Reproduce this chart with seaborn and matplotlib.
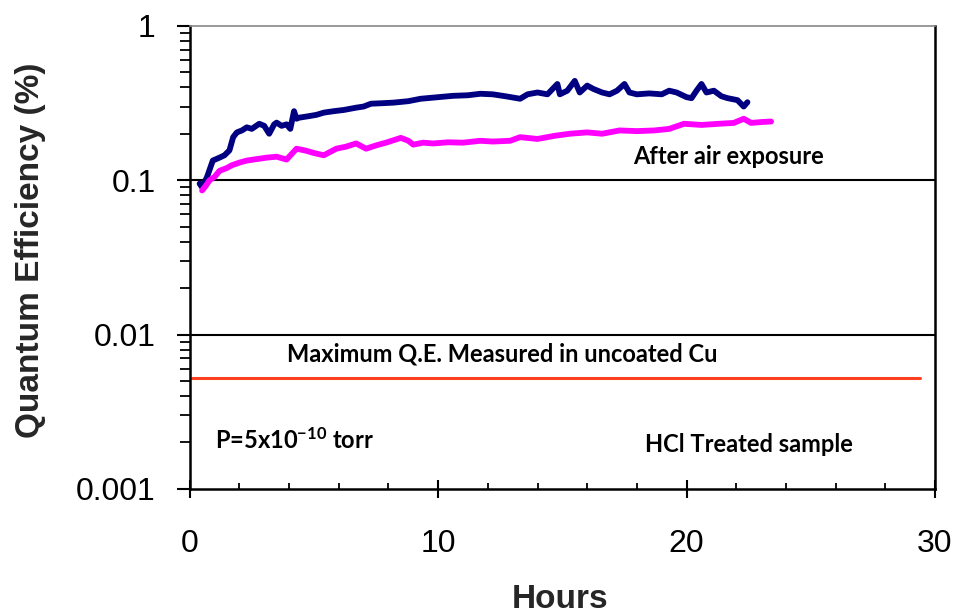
import numpy as np
import pandas as pd
import seaborn as sns
import matplotlib.pyplot as plt
from matplotlib.ticker import LogLocator, FixedLocator, NullFormatter

# navy series: HCl treated sample
hcl_hours = [0.4, 0.5, 0.7, 0.93, 1.2, 1.4, 1.6, 1.75, 1.9, 2.1, 2.3, 2.5, 2.8, 3.0, 3.2,
             3.4, 3.5, 3.7, 3.9, 4.05, 4.2, 4.3, 4.4, 4.8, 5.1, 5.4, 5.8, 6.2, 6.7, 7.0,
             7.3, 7.7, 8.2, 8.8, 9.3, 10.0, 10.6, 11.2, 11.7, 12.2, 12.7, 13.3, 13.6, 14.0,
             14.4, 14.8, 14.9, 15.2, 15.5, 15.7, 16.0, 16.25, 16.6, 16.9, 17.2, 17.5, 17.7,
             18.0, 18.5, 19.0, 19.3, 19.6, 20.0, 20.2, 20.4, 20.6, 20.8, 21.1, 21.4, 21.65,
             22.05, 22.3, 22.45]
hcl_qe = [0.095, 0.09, 0.105, 0.134, 0.14, 0.145, 0.156, 0.19, 0.204, 0.21, 0.22, 0.215,
          0.232, 0.225, 0.2, 0.23, 0.236, 0.225, 0.23, 0.215, 0.28, 0.25, 0.254, 0.26, 0.265,
          0.274, 0.28, 0.285, 0.295, 0.3, 0.313, 0.315, 0.318, 0.325, 0.337, 0.345, 0.352,
          0.355, 0.363, 0.36, 0.35, 0.337, 0.36, 0.37, 0.36, 0.42, 0.36, 0.38, 0.44, 0.37,
          0.41, 0.39, 0.37, 0.36, 0.38, 0.42, 0.37, 0.36, 0.365, 0.36, 0.38, 0.37, 0.345,
          0.34, 0.38, 0.42, 0.37, 0.38, 0.35, 0.34, 0.33, 0.3, 0.32]

# magenta series: after air exposure
air_hours = [0.5, 0.65, 0.8, 1.0, 1.2, 1.5, 1.7, 2.0, 2.3, 2.7, 3.1, 3.5, 3.9, 4.3, 4.7,
             5.0, 5.4, 5.9, 6.3, 6.7, 7.1, 7.5, 7.9, 8.5, 8.8, 9.0, 9.4, 9.8, 10.4, 11.0,
             11.7, 12.2, 12.9, 13.3, 14.0, 14.7, 15.3, 16.0, 16.6, 17.3, 18.0, 18.7, 19.3,
             19.9, 20.6, 21.3, 21.9, 22.3, 22.6, 23.0, 23.4]
air_qe = [0.0858, 0.092, 0.1, 0.105, 0.115, 0.12, 0.125, 0.13, 0.134, 0.137, 0.14, 0.142,
          0.136, 0.16, 0.155, 0.15, 0.145, 0.16, 0.165, 0.173, 0.16, 0.168, 0.175, 0.188,
          0.18, 0.17, 0.175, 0.173, 0.176, 0.175, 0.18, 0.178, 0.18, 0.19, 0.185, 0.194,
          0.2, 0.204, 0.2, 0.21, 0.208, 0.21, 0.215, 0.232, 0.228, 0.232, 0.235, 0.25,
          0.235, 0.238, 0.24]

# max QE of uncoated copper
cu_hours = [0.1, 29.4]
cu_qe = [0.00523, 0.00523]

df = pd.concat([
    pd.DataFrame({"Hours": hcl_hours, "QE": hcl_qe, "series": "HCl"}),
    pd.DataFrame({"Hours": air_hours, "QE": air_qe, "series": "Air"}),
    pd.DataFrame({"Hours": cu_hours, "QE": cu_qe, "series": "Cu"}),
])

sns.set_style("white")
plt.rcParams['font.family'] = ['Liberation Sans', 'DejaVu Sans']
plt.rcParams['mathtext.fontset'] = 'custom'
plt.rcParams['mathtext.rm'] = 'Lato:bold'
plt.rcParams['mathtext.it'] = 'Lato:bold'
plt.rcParams['mathtext.bf'] = 'Lato:bold'

fig = plt.figure(figsize=(9.58, 6.15), dpi=100)
ax = fig.add_axes([0.198, 0.205, 0.778, 0.753])

sns.lineplot(data=df[df.series == "HCl"], x="Hours", y="QE", color="#000080",
             lw=4.2, ax=ax, estimator=None, sort=False)
sns.lineplot(data=df[df.series == "Air"], x="Hours", y="QE", color="#FF00FF",
             lw=4.2, ax=ax, estimator=None, sort=False)
sns.lineplot(data=df[df.series == "Cu"], x="Hours", y="QE", color="#FF4020",
             lw=2.2, ax=ax, estimator=None, sort=False)

ax.set_yscale("log")
ax.set_xlim(0, 30)
ax.set_ylim(0.001, 1)
ax.set_xticks([0, 10, 20, 30])
ax.xaxis.set_minor_locator(FixedLocator(np.arange(0, 30.1, 2)))
ax.yaxis.set_major_locator(FixedLocator([0.001, 0.01, 0.1, 1]))
ax.yaxis.set_minor_locator(LogLocator(base=10, subs=np.arange(2, 10)))
ax.yaxis.set_minor_formatter(NullFormatter())
ax.set_yticklabels(["0.001", "0.01", "0.1", "1"])

ax.tick_params(axis="both", which="both", colors="black", left=True, bottom=True)
ax.tick_params(axis="y", which="major", direction="out", length=9.5, width=1.5,
               labelsize=23, pad=15)
ax.tick_params(axis="y", which="minor", direction="out", length=7, width=1.3)
ax.tick_params(axis="x", which="major", direction="inout", length=13, width=1.5,
               labelsize=23, pad=22)
ax.tick_params(axis="x", which="minor", direction="in", length=4, width=1.3)

for y in [0.1, 0.01]:
    ax.axhline(y, color="black", lw=1.5, zorder=1)

for side in ["left", "bottom", "right"]:
    ax.spines[side].set_color("black")
    ax.spines[side].set_linewidth(1.8)
ax.spines["top"].set_color("#888888")
ax.spines["top"].set_linewidth(1.2)

ax.set_xlabel("Hours", fontsize=24, fontweight="bold")
ax.set_ylabel("Quantum Efficiency (%)", fontsize=24, fontweight="bold")
ax.xaxis.set_label_coords(0.497, -0.205)
ax.yaxis.set_label_coords(-0.193, 0.516)

tfont = dict(family="Lato", fontweight="bold", fontsize=17, color="black")
ax.text(21.7, 0.1416, "After air exposure", ha="center", va="center", **tfont)
ax.text(12.6, 0.00748, "Maximum Q.E. Measured in uncoated Cu", ha="center", va="center", **tfont)
ax.text(1.0, 0.00207, "P=5x10$^{\\mathregular{-10}}$ torr", ha="left", va="center", **tfont)
ax.text(22.5, 0.00193, "HCl Treated sample", ha="center", va="center", **tfont)

plt.savefig("out.png", dpi=100)
